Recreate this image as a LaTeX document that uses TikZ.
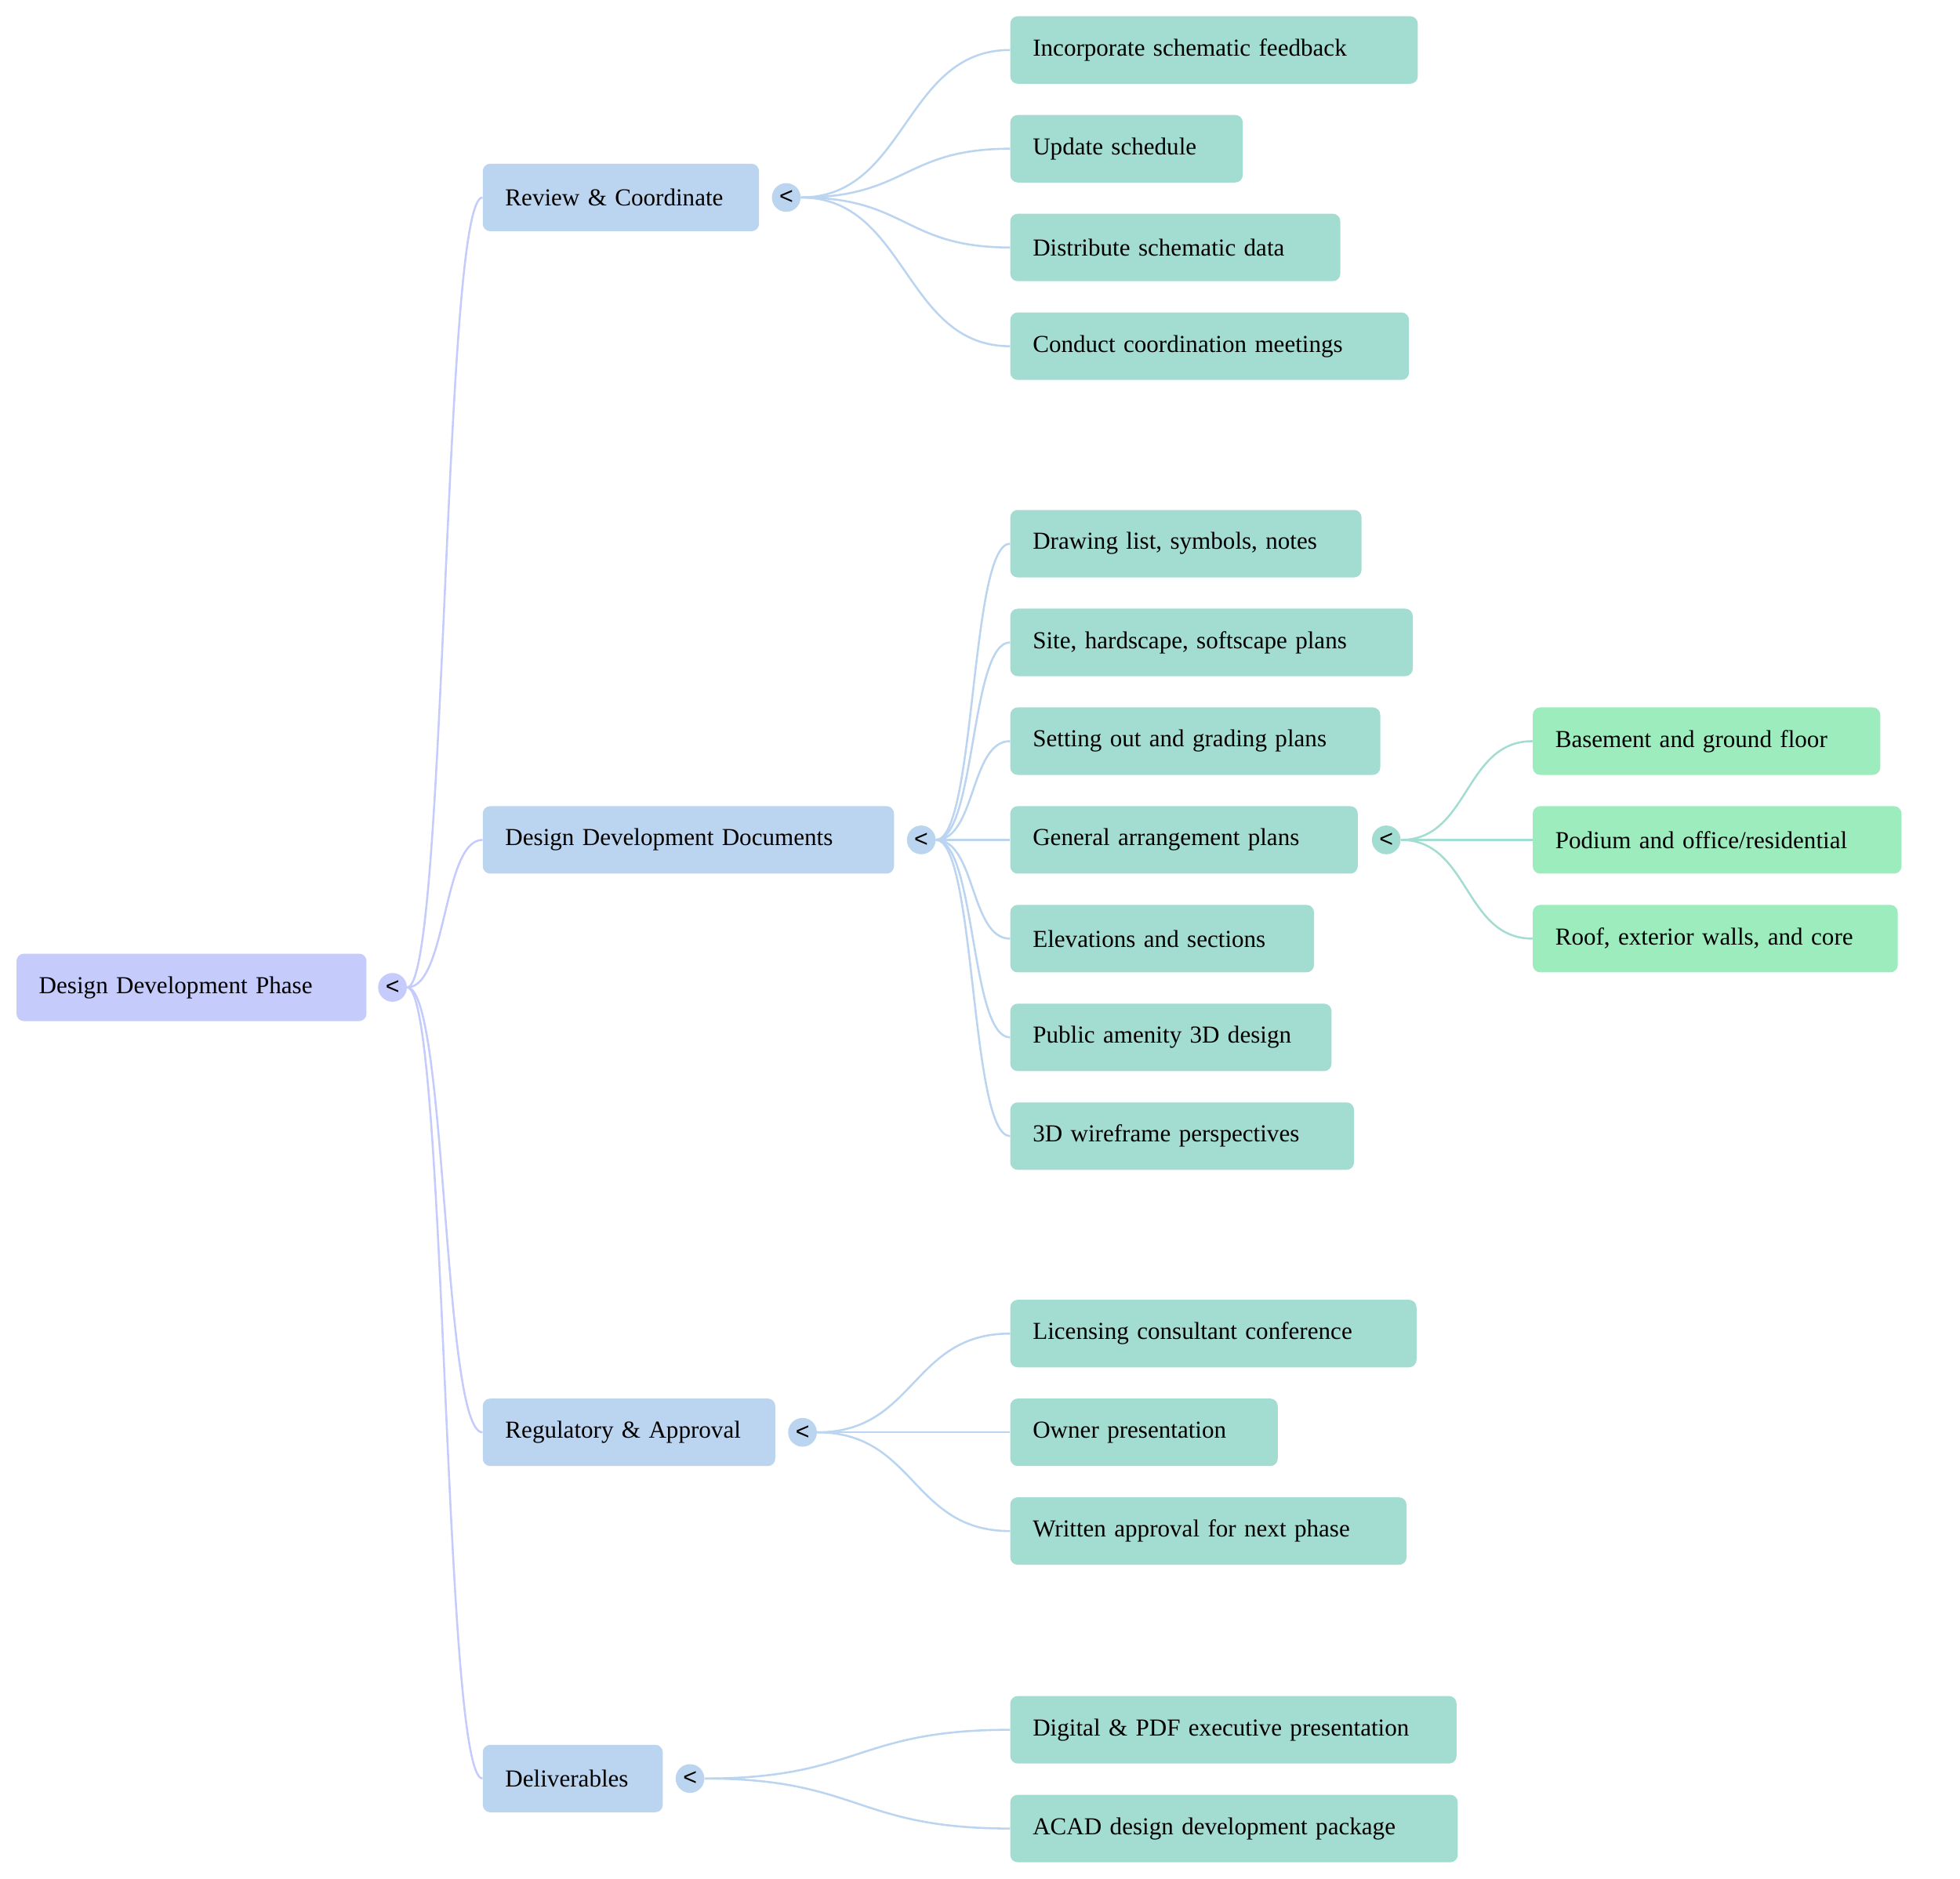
\documentclass[tikz,border=0pt]{standalone}
\usepackage{fontspec}
\setmainfont{Liberation Serif}
\setsansfont{Liberation Sans}
\usepackage{tikz}
\usetikzlibrary{positioning}
\definecolor{rootfill}{HTML}{C5CBFB}
\definecolor{secfill}{HTML}{BBD4EF}
\definecolor{leaffill}{HTML}{A3DDD2}
\definecolor{subfill}{HTML}{9DECBD}

\begin{document}
\begin{tikzpicture}[x=1pt, y=-1pt,
    box/.style={rounded corners=6pt, anchor=west, align=left, inner xsep=18pt, inner ysep=0pt, minimum height=54pt, font=\fontsize{19.5}{22}\selectfont},
    knob/.style={circle, inner sep=0pt, minimum size=23pt, font=\sffamily\fontsize{19}{19}\selectfont},
    link/.style={line width=1.6pt}]
                \useasboundingbox (0,0) rectangle (1568,1503);
                \node[box, fill=rootfill, text width=244pt] (phase) at (13,790) {Design Development Phase};
                \node[knob, fill=rootfill] (phasek) at (314,790) {<};

                \node[box, fill=secfill, text width=185pt] (review) at (386,158) {Review \& Coordinate};
                \node[knob, fill=secfill] (reviewk) at (629,158) {<};
                \node[box, fill=secfill, text width=293pt] (docs) at (386,672) {Design Development Documents};
                \node[knob, fill=secfill] (docsk) at (737,672) {<};
                \node[box, fill=secfill, text width=198pt] (reg) at (386,1146) {Regulatory \& Approval};
                \node[knob, fill=secfill] (regk) at (642,1146) {<};
                \node[box, fill=secfill, text width=108pt] (deliv) at (386,1423) {Deliverables};
                \node[knob, fill=secfill] (delivk) at (552,1423) {<};

                \node[box, fill=leaffill, text width=290pt] (feedback) at (808,40) {Incorporate schematic feedback};
                \node[box, fill=leaffill, text width=150pt] (schedule) at (808,119) {Update schedule};
                \node[box, fill=leaffill, text width=228pt] (distrib) at (808,198) {Distribute schematic data};
                \node[box, fill=leaffill, text width=283pt] (meetings) at (808,277) {Conduct coordination meetings};

                \node[box, fill=leaffill, text width=245pt] (drawlist) at (808,435) {Drawing list, symbols, notes};
                \node[box, fill=leaffill, text width=286pt] (site) at (808,514) {Site, hardscape, softscape plans};
                \node[box, fill=leaffill, text width=260pt] (grading) at (808,593) {Setting out and grading plans};
                \node[box, fill=leaffill, text width=242pt] (general) at (808,672) {General arrangement plans};
                \node[knob, fill=leaffill] (generalk) at (1109,672) {<};
                \node[box, fill=leaffill, text width=207pt] (elev) at (808,751) {Elevations and sections};
                \node[box, fill=leaffill, text width=221pt] (amenity) at (808,830) {Public amenity 3D design};
                \node[box, fill=leaffill, text width=239pt] (wire) at (808,909) {3D wireframe perspectives};

                \node[box, fill=subfill, text width=242pt] (basement) at (1226,593) {Basement and ground floor};
                \node[box, fill=subfill, text width=259pt] (podium) at (1226,672) {Podium and office/residential};
                \node[box, fill=subfill, text width=256pt] (roof) at (1226,751) {Roof, exterior walls, and core};

                \node[box, fill=leaffill, text width=289pt] (licensing) at (808,1067) {Licensing consultant conference};
                \node[box, fill=leaffill, text width=178pt] (owner) at (808,1146) {Owner presentation};
                \node[box, fill=leaffill, text width=281pt] (written) at (808,1225) {Written approval for next phase};

                \node[box, fill=leaffill, text width=321pt] (digital) at (808,1384) {Digital \& PDF executive presentation};
                \node[box, fill=leaffill, text width=322pt] (acad) at (808,1463) {ACAD design development package};

                \draw[link, rootfill] (phasek.east) .. controls +(32,0) and +(-32,0) .. (review.west);
                \draw[link, rootfill] (phasek.east) .. controls +(32,0) and +(-32,0) .. (docs.west);
                \draw[link, rootfill] (phasek.east) .. controls +(32,0) and +(-32,0) .. (reg.west);
                \draw[link, rootfill] (phasek.east) .. controls +(32,0) and +(-32,0) .. (deliv.west);

                \draw[link, secfill] (reviewk.east) .. controls +(85,0) and +(-85,0) .. (feedback.west);
                \draw[link, secfill] (reviewk.east) .. controls +(85,0) and +(-85,0) .. (schedule.west);
                \draw[link, secfill] (reviewk.east) .. controls +(85,0) and +(-85,0) .. (distrib.west);
                \draw[link, secfill] (reviewk.east) .. controls +(85,0) and +(-85,0) .. (meetings.west);

                \draw[link, secfill] (docsk.east) .. controls +(32,0) and +(-32,0) .. (drawlist.west);
                \draw[link, secfill] (docsk.east) .. controls +(32,0) and +(-32,0) .. (site.west);
                \draw[link, secfill] (docsk.east) .. controls +(32,0) and +(-32,0) .. (grading.west);
                \draw[link, secfill] (docsk.east) -- (general.west);
                \draw[link, secfill] (docsk.east) .. controls +(32,0) and +(-32,0) .. (elev.west);
                \draw[link, secfill] (docsk.east) .. controls +(32,0) and +(-32,0) .. (amenity.west);
                \draw[link, secfill] (docsk.east) .. controls +(32,0) and +(-32,0) .. (wire.west);

                \draw[link, leaffill] (generalk.east) .. controls +(55,0) and +(-55,0) .. (basement.west);
                \draw[link, leaffill] (generalk.east) -- (podium.west);
                \draw[link, leaffill] (generalk.east) .. controls +(55,0) and +(-55,0) .. (roof.west);

                \draw[link, secfill] (regk.east) .. controls +(79,0) and +(-79,0) .. (licensing.west);
                \draw[link, secfill] (regk.east) -- (owner.west);
                \draw[link, secfill] (regk.east) .. controls +(79,0) and +(-79,0) .. (written.west);

                \draw[link, secfill] (delivk.east) .. controls +(124,0) and +(-124,0) .. (digital.west);
                \draw[link, secfill] (delivk.east) .. controls +(124,0) and +(-124,0) .. (acad.west);
            \end{tikzpicture}
\end{document}
